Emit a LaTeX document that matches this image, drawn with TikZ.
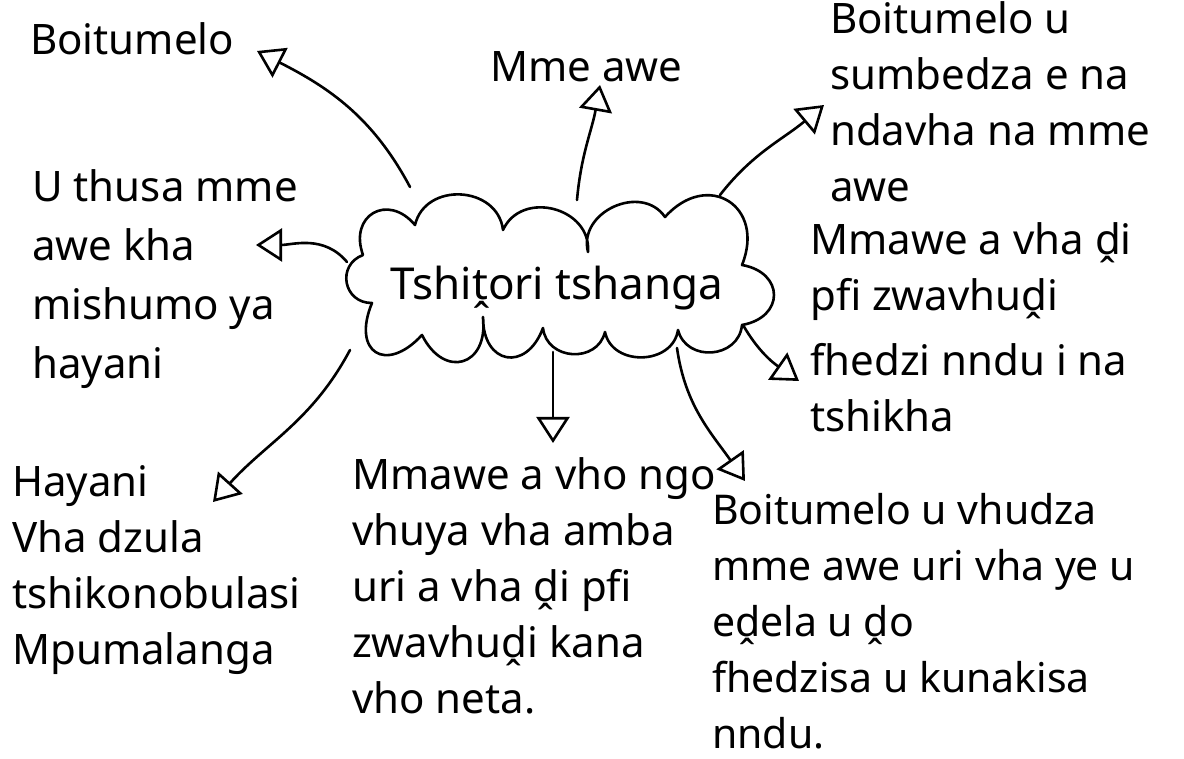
\documentclass[tikz,border=0pt]{standalone}
\usepackage{fontspec}
\setmainfont{Noto Sans}
\usetikzlibrary{arrows.meta}
\begin{document}
\begin{tikzpicture}[x=1pt,y=1pt,
  ink/.style={line width=2.6pt, line cap=round, line join=round},
  conn/.style={ink, -{Triangle[open,length=26pt,width=33pt]}},
  txt/.style={font=\fontsize{42}{56}\selectfont, align=left, inner sep=0pt, anchor=base west},
  bump/.style={bend left=80, looseness=#1}]
\useasboundingbox (0,0) rectangle (1184,759);
\fill[white] (0,0) rectangle (1184,759);
% cloud cusps
\coordinate (c1) at (363,504);
\coordinate (c2) at (415,534);
\coordinate (c3) at (503,529);
\coordinate (c4) at (588,507);
\coordinate (c5) at (665,542);
\coordinate (c6) at (742,494);
\coordinate (c7) at (742,434);
\coordinate (c8) at (678,429);
\coordinate (c9) at (605,427);
\coordinate (c10) at (543,431);
\coordinate (c11) at (483,442);
\coordinate (c12) at (422,424);
\coordinate (c13) at (372,456);
\draw[ink] (c1) to[bump=1.8] (c2) to[bump=1.3] (c3) to[bump=1.3] (c4)
  to[bump=1.25] (c5) to[bump=1.8] (c6) to[bump=1.85] (c7) to[bump=1.35] (c8)
  to[bump=1.25] (c9) to[bump=1.35] (c10) to[bump=2.0] (c11) to[bump=2.0] (c12)
  to[bump=2.3] (c13) to[bump=1.5] (c1);
\node[font=\fontsize{44}{50}\selectfont, anchor=base, inner sep=0pt] (topic) at (557,459) {Tshiṱori tshanga};
% text blocks (anchor = baseline of the last line)
\node[txt] (t1) at (30,704) {Boitumelo};
\node[txt] (t2) at (490,677) {Mme awe};
\node[txt] (t3) at (830,557) {Boitumelo u\\sumbedza e na\\ndavha na mme\\awe};
\node[txt] (t4) at (32,380) {U thusa mme\\[3pt]awe kha\\[3pt]mishumo ya\\[3pt]hayani};
\node[txt] (t5) at (810,327) {Mmawe a vha ḓi\\pfi zwavhuḓi\\[9pt]fhedzi nndu i na\\tshikha};
\node[txt] (t6) at (12,94) {Hayani\\Vha dzula\\tshikonobulasi\\Mpumalanga};
\node[txt] (t7) at (352,45) {Mmawe a vho ngo\\vhuya vha amba\\uri a vha ḓi pfi\\zwavhuḓi kana\\vho neta.};
\node[txt, font=\fontsize{41}{56}\selectfont] (t8) at (712,10) {Boitumelo u vhudza\\mme awe uri vha ye u\\eḓela u ḓo\\fhedzisa u kunakisa\\nndu.};
% connector ends
\coordinate (a1s) at (410,572); \coordinate (a1e) at (257,708);
\coordinate (a2s) at (577,559); \coordinate (a2e) at (600,674);
\coordinate (a3s) at (720,564); \coordinate (a3e) at (824,654);
\coordinate (a4s) at (347,497); \coordinate (a4e) at (256,514);
\coordinate (a5s) at (350,409); \coordinate (a5e) at (213,257);
\coordinate (a6s) at (553,407); \coordinate (a6e) at (553,316);
\coordinate (a7s) at (677,411); \coordinate (a7e) at (745,278);
\coordinate (a8s) at (743,434); \coordinate (a8e) at (799,378);
\draw[conn] (a1s) to[out=118,in=-27] (a1e);
\draw[conn] (a2s) to[out=85,in=-100] (a2e);
\draw[conn] (a3s) to[out=52,in=-140] (a3e);
\draw[conn] (a4s) to[out=130,in=0] (a4e);
\draw[conn] (a5s) to[out=-118,in=48] (a5e);
\draw[conn] (a6s) -- (a6e);
\draw[conn] (a7s) to[out=-82,in=125] (a7e);
\draw[conn] (a8s) to[out=-60,in=145] (a8e);
\end{tikzpicture}
\end{document}
